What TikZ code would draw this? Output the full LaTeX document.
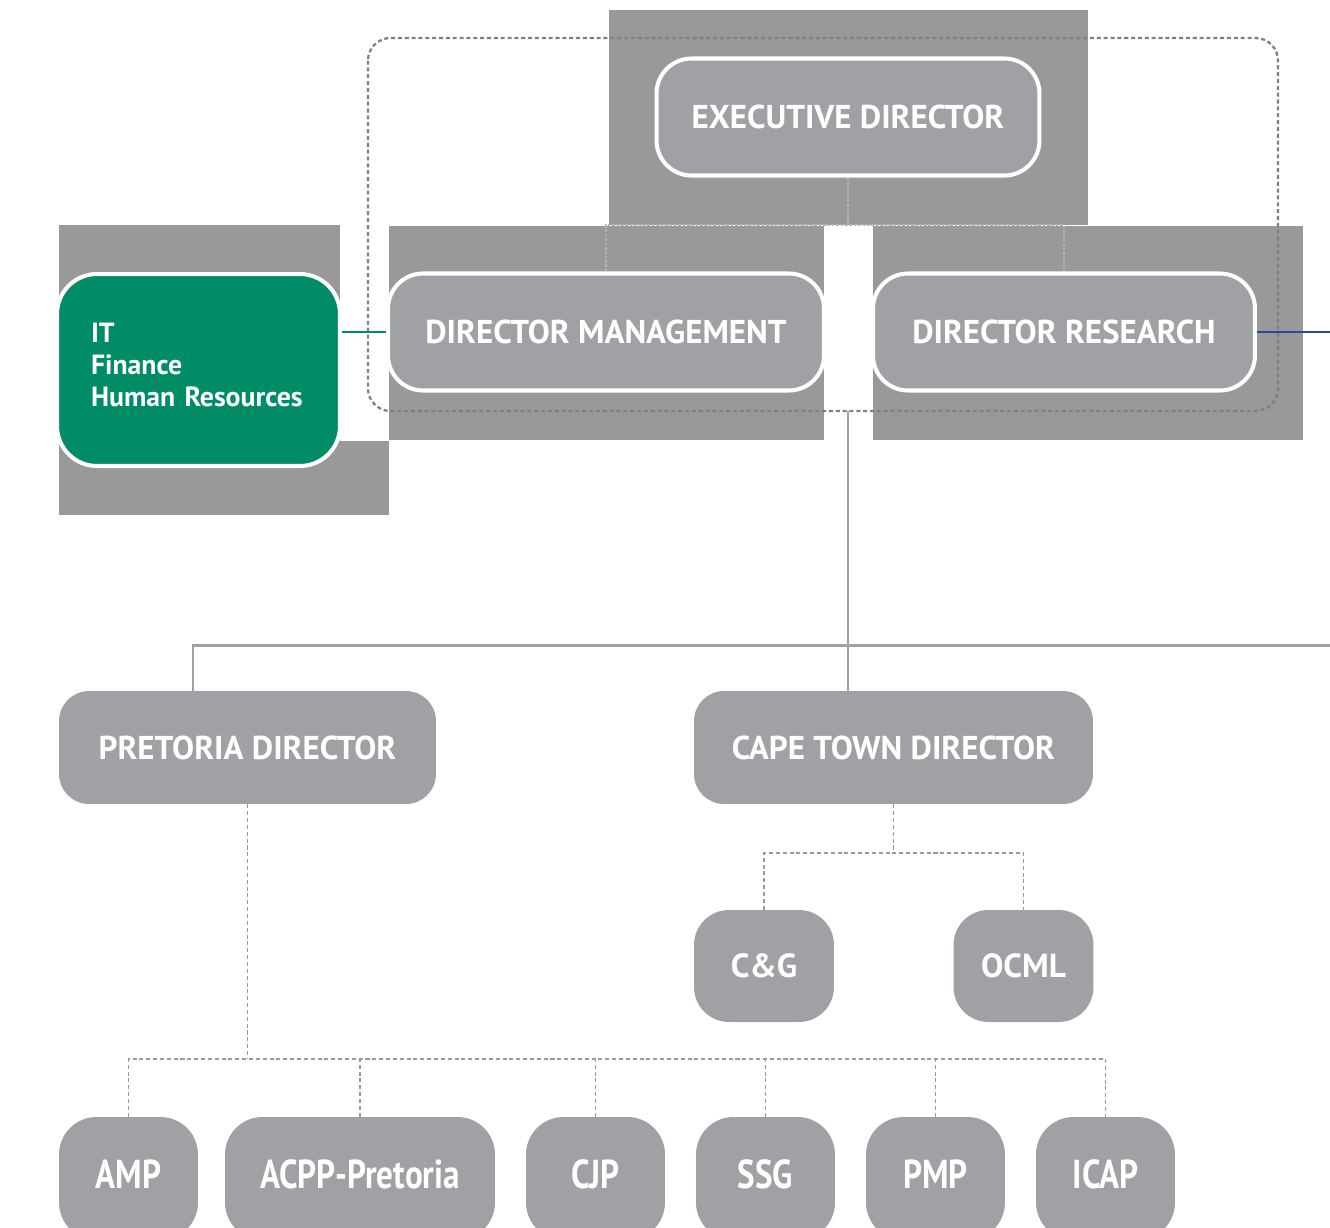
\documentclass[tikz,border=0pt]{standalone}
\usepackage{fontspec}
\setmainfont{PT Sans}
\usepackage{graphicx}
\usepackage{tikz}
\usetikzlibrary{positioning,calc}

\definecolor{boxgray}{HTML}{A0A1A4}
\definecolor{bggray}{HTML}{999999}
\definecolor{leafgreen}{HTML}{008C66}
\definecolor{linkblue}{HTML}{1F4E9A}
\definecolor{dashgray}{HTML}{9A9A9C}
\definecolor{outlinegray}{HTML}{808082}
\definecolor{faintgray}{HTML}{B4B4B6}

\newcommand{\squeeze}[1]{\raisebox{0.16cm}{\scalebox{0.82}[1]{#1}}}

\begin{document}
\begin{tikzpicture}[x=0.02cm,y=-0.02cm,
  topbox/.style={draw=white,line width=2.3pt,fill=boxgray,rounded corners=0.7cm,
    text=white,font=\bfseries\fontsize{18.8}{20}\selectfont,
    minimum width=#1,minimum height=2.34cm,inner sep=0pt},
  citybox/.style={fill=boxgray,rounded corners=0.6cm,text=white,
    font=\bfseries\fontsize{18.8}{20}\selectfont,
    minimum width=#1,minimum height=2.26cm,inner sep=0pt},
  unitbox/.style={fill=boxgray,rounded corners=0.7cm,text=white,
    font=\bfseries\fontsize{19}{20}\selectfont,
    minimum width=2.8cm,minimum height=2.24cm,inner sep=0pt},
  progbox/.style={fill=boxgray,rounded corners=0.75cm,text=white,
    font=\bfseries\fontsize{23}{26}\selectfont,
    minimum width=#1,minimum height=2.46cm,inner sep=0pt},
  solidlink/.style={draw=boxgray,line width=1.7pt},
  dashlink/.style={draw=dashgray,line width=1.1pt,dash pattern=on 2.3pt off 1.6pt},
  faintlink/.style={draw=faintgray,line width=0.6pt,dash pattern=on 1.5pt off 1pt}]

  \useasboundingbox (0,0) rectangle (1330,1228);

  %backgrounds
  \fill[bggray] (609,10) rectangle (1088,225);
  \fill[bggray] (389,226) rectangle (824,440);
  \fill[bggray] (873,226) rectangle (1303,440);
  \fill[bggray] (59,225) rectangle (340,515);
  \fill[bggray] (340,441) rectangle (389,515);

  %board outline
  \draw[outlinegray,line width=1.3pt,dash pattern=on 2.3pt off 1.6pt,rounded corners=0.45cm]
    (368,38) rectangle (1278,411);

  %top level
  \node[topbox=7.66cm] (exec) at (848,117) {EXECUTIVE DIRECTOR};
  \node[topbox=8.72cm] (dirman) at (606,332) {DIRECTOR MANAGEMENT};
  \node[topbox=7.64cm] (dirres) at (1064,332) {DIRECTOR RESEARCH};
  \node[draw=white,line width=2.3pt,fill=leafgreen,rounded corners=0.8cm,
        minimum width=5.66cm,minimum height=3.84cm,text=white,
        text width=4.3cm,align=left,text depth=42pt,
        font=\bfseries\fontsize{15.8}{18.1}\selectfont] (support) at (198.5,370)
        {IT\\Finance\\Human Resources};

  \coordinate (execbus) at (848,225);
  \draw[faintlink] (exec.south) -- (execbus);
  \draw[faintlink] (dirman.north) |- (dirres.north |- execbus) -- (dirres.north);

  \draw[leafgreen,line width=1.2pt] (support.east |- dirman.west) -- (dirman.west);
  \coordinate (blueend) at (1330,332);
  \draw[linkblue,line width=1.5pt] (dirres.east) -- (blueend);

  %regional directors
  \node[citybox=7.54cm] (pta) at (247.5,747.5) {PRETORIA DIRECTOR};
  \node[citybox=7.98cm] (cpt) at (893.5,747.5) {CAPE TOWN DIRECTOR};

  \coordinate (hub) at (848,411);
  \coordinate (railend) at (1330,645);
  \coordinate (ptadrop) at (193,645);
  \draw[solidlink] (hub) -- (hub |- cpt.north);
  \draw[solidlink] (railend) -- (ptadrop) -- (ptadrop |- pta.north);

  %cape town units
  \node[unitbox] (cg) at (764,966) {C\&G};
  \node[unitbox] (ocml) at (1023.5,966) {OCML};

  \coordinate (cptbus) at (893.5,853);
  \draw[dashlink] (cpt.south) -- (cptbus);
  \draw[dashlink] (cg.north) |- (ocml.north |- cptbus) -- (ocml.north);

  %pretoria programmes
  \foreach \nm/\cx/\bw/\lbl in {amp/128.5/2.78cm/AMP, acpp/360/5.4cm/ACPP-Pretoria,
      cjp/595.5/2.78cm/CJP, ssg/765.5/2.78cm/SSG, pmp/935.5/2.78cm/PMP,
      icap/1105.5/2.78cm/ICAP}
    \node[progbox=\bw] (\nm) at (\cx,1178.5) {\squeeze{\lbl}};

  \coordinate (ptabus) at (247.5,1059);
  \draw[dashlink] (pta.south) -- (ptabus);
  \draw[dashlink] (amp.north) |- (icap.north |- ptabus) -- (icap.north);
  \foreach \nm in {acpp,cjp,ssg,pmp}
    \draw[dashlink] (\nm.north) -- (\nm.north |- ptabus);

\end{tikzpicture}
\end{document}
